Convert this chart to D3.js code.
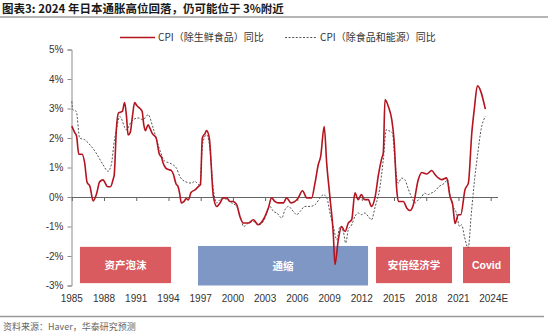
<!DOCTYPE html>
<html><head><meta charset="utf-8">
<script src="https://cdn.jsdelivr.net/npm/d3@7/dist/d3.min.js"></script>
<style>
html,body{margin:0;padding:0;background:#fff;}
svg{display:block;}
</style></head>
<body>
<svg id="chart" width="550" height="333"></svg>
<script>
// ---- data ----
const coreYears = [1985.0,1985.25,1985.45,1985.65,1985.95,1986.2,1986.42,1986.7,1986.98,1987.3,1987.6,1987.9,1988.35,1988.6,1988.85,1988.95,1989.15,1989.35,1989.7,1989.92,1990.1,1990.24,1990.45,1990.65,1990.85,1991.05,1991.35,1991.55,1991.7,1991.85,1992.1,1992.25,1992.5,1992.85,1993.15,1993.35,1993.5,1993.75,1994.0,1994.25,1994.45,1994.7,1994.9,1995.05,1995.2,1995.45,1995.65,1995.85,1996.1,1996.5,1996.85,1996.98,1997.15,1997.4,1997.55,1997.8,1998.18,1998.5,1998.8,1999.1,1999.42,1999.72,2000.0,2000.35,2000.65,2000.97,2001.45,2001.9,2002.35,2002.82,2003.3,2003.6,2003.9,2004.22,2004.7,2005.0,2005.4,2005.78,2006.08,2006.48,2006.88,2007.33,2007.64,2007.95,2008.17,2008.5,2008.73,2009.03,2009.34,2009.5,2009.81,2010.12,2010.44,2010.75,2011.06,2011.36,2011.66,2011.96,2012.26,2012.6,2012.9,2013.25,2013.55,2013.85,2014.0,2014.16,2014.47,2014.79,2015.0,2015.25,2015.4,2015.87,2016.18,2016.49,2016.8,2017.26,2017.58,2018.04,2018.51,2018.82,2019.12,2019.44,2019.9,2020.21,2020.46,2020.68,2020.99,2021.21,2021.61,2021.92,2022.24,2022.48,2022.76,2023.5];
const coreValues = [2.4,2.2,2.05,1.45,1.45,1.15,0.5,0.35,-0.13,0.1,0.52,0.58,0.35,0.35,0.6,0.75,2.3,2.85,2.9,3.2,2.7,2.1,2.2,2.75,3.2,3.1,3.0,2.9,2.45,2.25,2.45,2.35,2.15,2.0,1.45,1.35,1.15,0.98,0.93,0.9,0.78,0.45,0.35,0.1,-0.2,-0.15,-0.05,-0.1,0.15,0.25,0.38,0.42,2.0,2.15,2.25,2.0,0.02,-0.32,-0.2,-0.03,-0.03,-0.15,-0.15,-0.26,-0.66,-0.88,-0.88,-0.77,-0.94,-0.77,-0.37,-0.03,-0.15,-0.2,-0.2,-0.03,-0.2,-0.15,-0.03,0.21,-0.03,-0.03,0.47,1.1,1.38,2.39,1.15,0.0,-1.22,-2.29,-1.45,-1.0,-1.17,-0.88,-0.77,0.14,-0.09,0.08,-0.09,-0.09,-0.32,0.02,0.76,1.3,1.5,3.3,3.07,2.62,1.94,0.25,-0.15,-0.15,-0.37,-0.46,-0.26,0.59,0.83,0.78,0.9,0.76,0.65,0.59,0.65,0.02,-0.26,-0.9,-0.6,-0.6,0.25,0.47,2.17,3.0,3.77,2.98];

const coreCoreYears = [1985.0,1985.1,1985.42,1985.73,1986.2,1986.8,1987.27,1987.9,1988.37,1988.68,1988.97,1989.15,1989.47,1990.08,1990.55,1991.17,1991.64,1992.1,1992.57,1993.19,1993.66,1994.12,1994.74,1995.05,1995.52,1996.14,1996.44,1996.92,1997.18,1997.55,1997.8,1998.18,1998.49,1998.8,1999.1,1999.42,1999.88,2000.35,2000.82,2000.98,2001.45,2001.91,2002.37,2002.84,2003.15,2003.45,2003.77,2004.08,2004.55,2004.85,2005.16,2005.63,2005.94,2006.25,2006.71,2007.18,2007.65,2008.12,2008.43,2008.74,2009.1,2009.35,2009.67,2009.97,2010.28,2010.5,2010.75,2011.05,2011.36,2011.66,2011.96,2012.3,2012.6,2012.9,2013.25,2013.65,2014.0,2014.28,2014.65,2014.85,2015.1,2015.38,2015.7,2016.0,2016.3,2016.6,2016.95,2017.25,2017.55,2017.85,2018.15,2018.45,2018.8,2019.2,2019.7,2020.0,2020.2,2020.5,2020.8,2021.1,2021.3,2021.55,2021.9,2022.2,2022.5,2022.8,2023.1,2023.5];
const coreCoreValues = [3.24,2.96,2.9,2.0,1.94,1.72,1.49,1.1,0.87,1.1,1.94,2.28,2.73,2.28,2.56,2.68,2.62,2.79,2.34,1.6,1.21,1.15,0.98,0.7,0.53,0.47,0.53,0.4,1.81,2.11,1.81,0.25,-0.2,-0.09,-0.03,-0.09,-0.2,-0.32,-0.83,-1.0,-0.88,-0.83,-0.94,-0.83,-0.54,-0.32,-0.49,-0.54,-0.71,-0.43,-0.32,-0.49,-0.6,-0.49,-0.32,-0.32,-0.26,-0.03,0.08,-0.03,-0.66,-1.0,-1.45,-1.0,-1.17,-1.56,-1.1,-0.95,-0.66,-0.54,-0.6,-0.54,-0.66,-0.77,-0.32,0.25,1.26,2.28,2.22,2.17,1.15,0.47,0.64,0.59,0.3,0.02,-0.2,-0.1,0.0,0.13,0.08,0.13,0.2,0.36,0.47,0.59,0.08,-0.32,-0.54,-1.0,-0.94,-1.34,-1.73,-0.54,0.59,1.49,2.28,2.73];

const tickYears = [1985,1988,1991,1994,1997,2000,2003,2006,2009,2012,2015,2018,2021,2024];
const tickLabels = ["1985","1988","1991","1994","1997","2000","2003","2006","2009","2012","2015","2018","2021","2024E"];
const yTicks = [-3,-2,-1,0,1,2,3,4,5];

const seriesNames = ["CPI（除生鲜食品）同比","CPI（除食品和能源）同比"];

const eraLabels = ["资产泡沫","通缩","安倍经济学","Covid"];
const eraStart = [1985.76,1996.75,2013.32,2021.42];
const eraEnd = [1994.24,2012.58,2020.4,2025.8];
const eraTop = [-1.69,-1.66,-1.69,-1.69];
const eraBottom = [-2.92,-3.0,-2.92,-2.92];
const eraKinds = ["red","blue","red","red"];

const titleText = "图表3:  2024 年日本通胀高位回落，仍可能位于 3%附近";
const sourceText = "资料来源：Haver，华泰研究预测";

// ---- drawing ----
const svg = d3.select("#chart");
const latin = "'Liberation Sans', Arial, sans-serif";
const cjk = "'Noto Sans CJK SC', 'Liberation Sans', sans-serif";

const x = d3.scaleLinear().domain([1985, 2024]).range([71.8, 490.7]);
const y = d3.scaleLinear().domain([-3, 5]).range([285.5, 49.5]);

// title
svg.append("text").attr("x", 2).attr("y", 13)
  .attr("font-family", cjk).attr("font-size", 11.5).attr("font-weight", "bold")
  .attr("fill", "#1a1a1a").text(titleText);
svg.append("line").attr("x1", 0).attr("x2", 548).attr("y1", 17).attr("y2", 17)
  .attr("stroke", "#6d6d6d").attr("stroke-width", 1.2);

// era boxes
const eraColor = {red: "#d95b5f", blue: "#7f97c5"};
const eras = eraLabels.map((l, i) => ({label: l, s: eraStart[i], e: eraEnd[i], t: eraTop[i], b: eraBottom[i], k: eraKinds[i]}));
const eg = svg.append("g");
eg.selectAll("rect").data(eras).join("rect")
  .attr("x", d => x(d.s)).attr("width", d => x(d.e) - x(d.s))
  .attr("y", d => y(d.t)).attr("height", d => y(d.b) - y(d.t))
  .attr("fill", d => eraColor[d.k]);
eg.selectAll("text").data(eras).join("text")
  .attr("x", d => (x(d.s) + x(d.e)) / 2).attr("y", d => (y(d.t) + y(d.b)) / 2 + 4)
  .attr("text-anchor", "middle").attr("fill", "#fff")
  .attr("font-family", d => d.label === "Covid" ? latin : cjk)
  .attr("font-weight", "bold").attr("font-size", 10.5)
  .text(d => d.label);

// y axis
const yAxis = d3.axisLeft(y).tickValues(yTicks).tickSize(4).tickPadding(4)
  .tickFormat(d => d + "%");
const ya = svg.append("g").attr("transform", "translate(71.5,0)").call(yAxis);
ya.select(".domain").attr("stroke", "#8c8c8c");
ya.selectAll(".tick line").attr("stroke", "#8c8c8c");
ya.selectAll("text").attr("font-family", latin).attr("font-size", 10).attr("fill", "#333");

// zero line with ticks
const xAxis = d3.axisBottom(x).tickValues(tickYears).tickSize(4).tickFormat("").tickSizeOuter(0);
const xa = svg.append("g").attr("transform", `translate(0,${y(0)})`).call(xAxis);
xa.select(".domain").attr("d", `M71.5,0.5H498`).attr("stroke", "#666");
xa.selectAll(".tick line").attr("stroke", "#666");

// x labels at bottom
svg.append("g").selectAll("text").data(tickYears).join("text")
  .attr("x", (d, i) => x(d) + (i === tickYears.length - 1 ? 3 : 0))
  .attr("y", 302)
  .attr("text-anchor", "middle")
  .attr("font-family", latin).attr("font-size", 10).attr("fill", "#333")
  .text((d, i) => tickLabels[i]);

// lines
const line = d3.line().x(d => x(d[0])).y(d => y(d[1])).curve(d3.curveMonotoneX);
const coreData = coreYears.map((t, i) => [t, coreValues[i]]);
const coreCoreData = coreCoreYears.map((t, i) => [t, coreCoreValues[i]]);

svg.append("path").datum(coreCoreData).attr("d", line)
  .attr("fill", "none").attr("stroke", "#555").attr("stroke-width", 1)
  .attr("stroke-dasharray", "2,1.6");
svg.append("path").datum(coreData).attr("d", line)
  .attr("fill", "none").attr("stroke", "#b3141f").attr("stroke-width", 1.6)
  .attr("stroke-linejoin", "round");

// legend
const lg = svg.append("g");
lg.append("line").attr("x1", 120).attr("x2", 155).attr("y1", 37.5).attr("y2", 37.5)
  .attr("stroke", "#b3141f").attr("stroke-width", 1.6);
lg.append("text").attr("x", 158).attr("y", 41).attr("font-family", cjk)
  .attr("font-size", 10).attr("fill", "#333").text(seriesNames[0]);
lg.append("line").attr("x1", 285).attr("x2", 317).attr("y1", 37.5).attr("y2", 37.5)
  .attr("stroke", "#555").attr("stroke-width", 1).attr("stroke-dasharray", "2,1.6");
lg.append("text").attr("x", 320).attr("y", 41).attr("font-family", cjk)
  .attr("font-size", 10).attr("fill", "#333").text(seriesNames[1]);

// footer
svg.append("line").attr("x1", 0).attr("x2", 544).attr("y1", 316.5).attr("y2", 316.5)
  .attr("stroke", "#9a9a9a").attr("stroke-width", 1.5);
svg.append("text").attr("x", 3).attr("y", 330).attr("font-family", cjk)
  .attr("font-size", 9).attr("fill", "#666").text(sourceText);
</script>
</body></html>
